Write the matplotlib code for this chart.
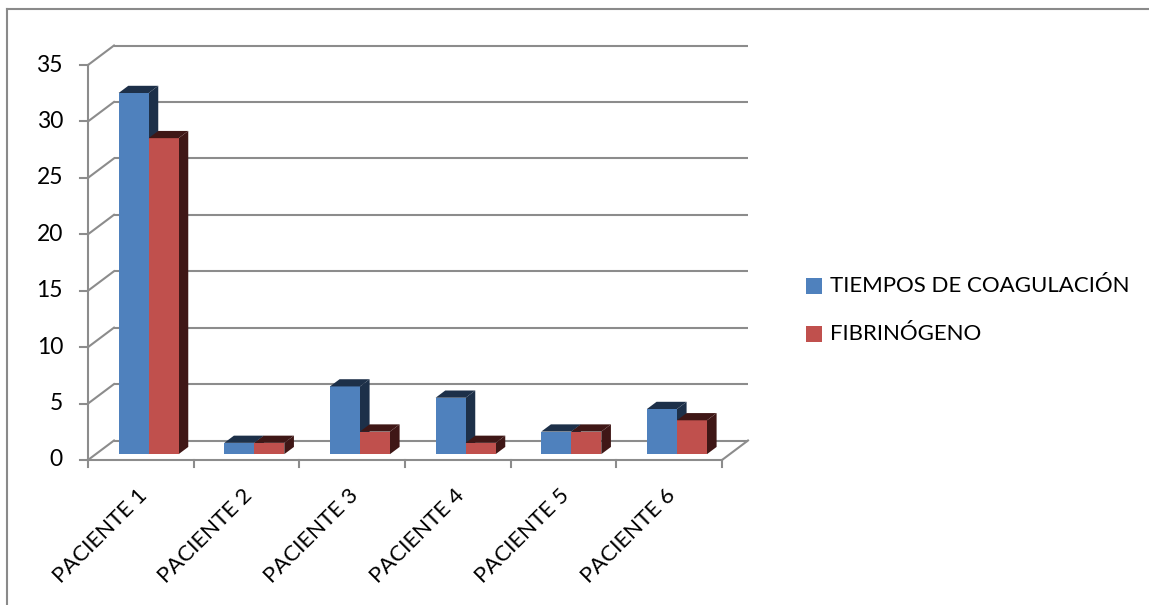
import matplotlib
matplotlib.use("Agg")
import matplotlib.pyplot as plt
from matplotlib.patches import Polygon, Rectangle
from matplotlib.lines import Line2D
import matplotlib.transforms as mtransforms

categories = ["PACIENTE 1", "PACIENTE 2", "PACIENTE 3", "PACIENTE 4", "PACIENTE 5", "PACIENTE 6"]
series_names = ["TIEMPOS DE COAGULACIÓN", "FIBRINÓGENO"]
tiempos = [32, 1, 6, 5, 2, 4]
fibrinogeno = [28, 1, 2, 1, 2, 3]
y_ticks = [0, 5, 10, 15, 20, 25, 30, 35]

W, H = 1149, 605
plt.rcParams['font.family'] = ['Lato', 'DejaVu Sans']
fig = plt.figure(figsize=(W / 100, H / 100), dpi=100)

# front plane axes: x 0..6 -> px 88..722, y 0..35 -> px 460..65
ax = fig.add_axes([88 / W, (H - 460) / H, 634 / W, 395 / H])
ncat = len(categories)
ymax = 35
ax.set_xlim(0, ncat)
ax.set_ylim(0, ymax)
ax.axis('off')

px_x = ncat / 634.0
px_y = ymax / 395.0
DX = 26 * px_x
DY = 19.5 * px_y

grid_c = '#8c8c8c'
glw = 1.5

# back wall gridlines & left diagonals
for v in y_ticks:
    ax.plot([DX, ncat + DX], [v + DY, v + DY], color=grid_c, lw=glw, clip_on=False, zorder=1,
            solid_capstyle='butt')
    ax.plot([0, DX], [v, v + DY], color=grid_c, lw=glw, clip_on=False, zorder=1)
    # y tick mark
    ax.plot([-8 * px_x, 0], [v, v], color=grid_c, lw=glw, clip_on=False, zorder=1)
    ax.text(-25 * px_x, v, str(v), ha='right', va='center', fontsize=16.5, color='#000000')

# front y axis and floor
ax.plot([0, 0], [0, ymax], color=grid_c, lw=glw, clip_on=False, zorder=1)
ax.plot([0, ncat], [0, 0], color=grid_c, lw=glw, clip_on=False, zorder=1)
ax.plot([ncat, ncat + DX], [0, DY], color=grid_c, lw=glw, clip_on=False, zorder=1)
for i in range(ncat + 1):
    ax.plot([i, i], [0, -7 * px_y], color=grid_c, lw=glw, clip_on=False, zorder=1)

# bars
f = 0.3          # depth position of bar front
d = 0.37         # bar depth fraction
w = 0.284        # bar width
fronts = ['#4f81bd', '#c0504d']
darks = ['#1d3049', '#3f1716']
series = [tiempos, fibrinogeno]
z = 3
for i in range(ncat):
    for s, vals in enumerate(series):
        v = vals[i]
        x0 = i + 0.5 + f * DX - w + s * w
        x1 = x0 + w
        b = f * DY
        ddx, ddy = d * DX, d * DY
        side = Polygon([(x1, b), (x1 + ddx, b + ddy), (x1 + ddx, b + v + ddy), (x1, b + v)],
                       closed=True, facecolor=darks[s], edgecolor='none', zorder=z, clip_on=False)
        ax.add_patch(side)
        ax.bar(x0, v, width=w, bottom=b, align='edge', color=fronts[s], zorder=z + 0.1,
               clip_on=False, linewidth=0)
        top = Polygon([(x0, b + v), (x1, b + v), (x1 + ddx, b + v + ddy), (x0 + ddx, b + v + ddy)],
                      closed=True, facecolor=darks[s], edgecolor='none', zorder=z + 0.2, clip_on=False)
        ax.add_patch(top)
        z += 1

# category labels
for i, lab in enumerate(categories):
    tr = mtransforms.offset_copy(ax.transData, fig=fig, x=-4, y=-25, units='dots')
    ax.text(i + 0.5, 0, lab, transform=tr, rotation=45, rotation_mode='anchor',
            ha='right', va='top', fontsize=16, color='#000000')

# legend (manual)
leg_rows = [286, 334]
for s, name in enumerate(series_names):
    yc = leg_rows[s]
    fig.patches.append(Rectangle((806 / W, (H - yc - 8) / H), 16 / W, 16 / H,
                                 transform=fig.transFigure, facecolor=fronts[s], edgecolor='none'))
    fig.text(830 / W, (H - yc) / H, name, ha='left', va='center', fontsize=16, color='#000000')

# chart border (top and left)
fig.lines.append(Line2D([7 / W, 1.0], [(H - 9) / H, (H - 9) / H], transform=fig.transFigure,
                        color='#8a8a8a', lw=1.5))
fig.lines.append(Line2D([7 / W, 7 / W], [0, (H - 9) / H], transform=fig.transFigure,
                        color='#8a8a8a', lw=1.5))

fig.savefig('out.png', dpi=100, facecolor='white')
